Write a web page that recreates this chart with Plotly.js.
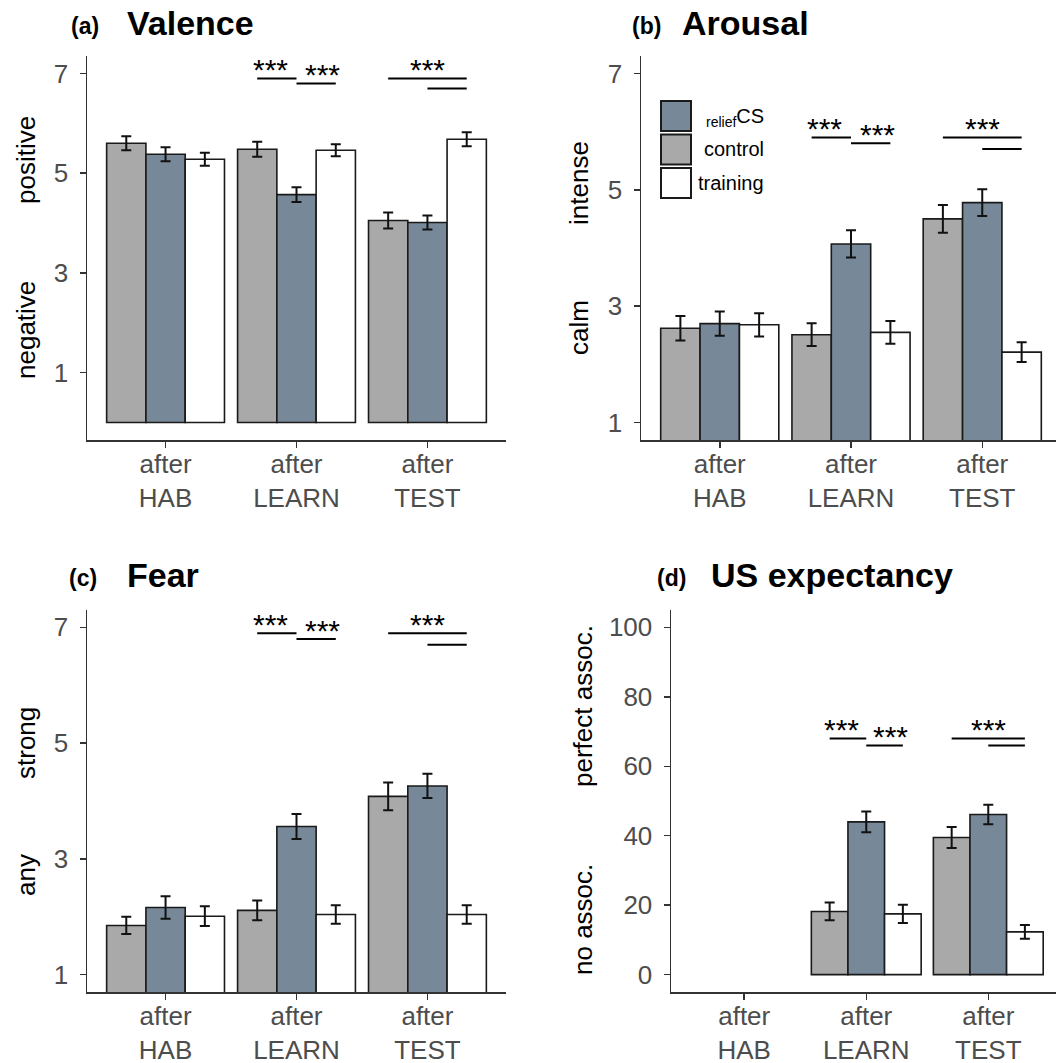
<!DOCTYPE html>
<html><head><meta charset="utf-8">
<script src="https://cdn.plot.ly/plotly-3.0.1.min.js"></script>
<style>html,body{margin:0;padding:0;overflow:hidden;background:#fff}#chart{width:1062px;height:1063px}</style>
</head><body><div id="chart"></div>
<script>
// ---------- data ----------
const phases = ['HAB', 'LEARN', 'TEST'];
const tickLabels = phases.map(p => 'after<br>' + p);
const seriesNames = ['control', 'reliefCS', 'training'];
const legendLabels = ['<sub>relief</sub>CS', 'control', 'training'];

const valenceControl = [5.60, 5.48, 4.05];
const valenceControlErr = [0.14, 0.15, 0.16];
const valenceRelief = [5.38, 4.57, 4.01];
const valenceReliefErr = [0.14, 0.15, 0.14];
const valenceTraining = [5.28, 5.46, 5.68];
const valenceTrainingErr = [0.13, 0.12, 0.14];

const arousalControl = [2.62, 2.51, 4.50];
const arousalControlErr = [0.21, 0.195, 0.24];
const arousalRelief = [2.70, 4.07, 4.78];
const arousalReliefErr = [0.21, 0.235, 0.23];
const arousalTraining = [2.68, 2.55, 2.21];
const arousalTrainingErr = [0.20, 0.195, 0.17];

const fearControl = [1.85, 2.11, 4.08];
const fearControlErr = [0.15, 0.17, 0.24];
const fearRelief = [2.16, 3.56, 4.26];
const fearReliefErr = [0.195, 0.215, 0.21];
const fearTraining = [2.01, 2.04, 2.04];
const fearTrainingErr = [0.17, 0.16, 0.16];

const usControl = [null, 18.2, 39.5];
const usControlErr = [null, 2.55, 3.0];
const usRelief = [null, 44.0, 46.1];
const usReliefErr = [null, 3.0, 2.8];
const usTraining = [null, 17.5, 12.3];
const usTrainingErr = [null, 2.6, 2.0];

const panelLetters = ['(a)', '(b)', '(c)', '(d)'];
const panelTitles = ['Valence', 'Arousal', 'Fear', 'US expectancy'];
const yLabelsHigh = ['positive', 'intense', 'strong', 'perfect assoc.'];
const yLabelsLow = ['negative', 'calm', 'any', 'no assoc.'];
const ticks1to7 = [1, 3, 5, 7];
const ticks0to100 = [0, 20, 40, 60, 80, 100];

// significance: [phaseIndex, fromSeries, toSeries, level]
const sigLinesValence = [[1, 0, 1, 6.9], [1, 1, 2, 6.8], [2, 0, 2, 6.9], [2, 1, 2, 6.7]];
const sigLinesArousal = [[1, 0, 1, 5.9], [1, 1, 2, 5.8], [2, 0, 2, 5.9], [2, 1, 2, 5.7]];
const sigLinesFear = [[1, 0, 1, 6.9], [1, 1, 2, 6.8], [2, 0, 2, 6.9], [2, 1, 2, 6.7]];
const sigLinesUS = [[1, 0, 1, 68], [1, 1, 2, 66], [2, 0, 2, 68], [2, 1, 2, 66]];
// stars: [phaseIndex, lineIndex the label sits over, horizontal shift in bar units]
const sigStars = [[1, 0, -0.2], [1, 1, 0.2], [2, 2, 0]];
const sigLabel = '***';

// ---------- styling ----------
const W = 1062, H = 1063;
const FONT = 'Liberation Sans, Arial, Helvetica, sans-serif';
const colors = ['#A9A9A9', '#778899', '#FFFFFF'];
const bargap = 0.1;
const barW = (1 - bargap) / 3;
const px = x => x / W;
const py = y => 1 - y / H;

const panels = [
  {vals: [valenceControl, valenceRelief, valenceTraining], errs: [valenceControlErr, valenceReliefErr, valenceTrainingErr],
   range: [-0.35, 7.35], ticks: ticks1to7, sig: sigLinesValence, xd: [87, 506], yd: [56, 440]},
  {vals: [arousalControl, arousalRelief, arousalTraining], errs: [arousalControlErr, arousalReliefErr, arousalTrainingErr],
   range: [0.7, 7.3], ticks: ticks1to7, sig: sigLinesArousal, xd: [641, 1061], yd: [56, 440]},
  {vals: [fearControl, fearRelief, fearTraining], errs: [fearControlErr, fearReliefErr, fearTrainingErr],
   range: [0.7, 7.3], ticks: ticks1to7, sig: sigLinesFear, xd: [87, 506], yd: [610, 992]},
  {vals: [usControl, usRelief, usTraining], errs: [usControlErr, usReliefErr, usTrainingErr],
   range: [-5, 105], ticks: ticks0to100, sig: sigLinesUS, xd: [671, 1061.5], yd: [610, 992]}
];

const titlePos = [
  {lx: 69, tx: 125, top: 36}, {lx: 630, tx: 680, top: 36},
  {lx: 67, tx: 125, top: 588}, {lx: 655, tx: 709, top: 588}
];
const ylabPos = [
  {x: 26, hi: 160, lo: 330}, {x: 579, hi: 183, lo: 328},
  {x: 26, hi: 743, lo: 875}, {x: 583, hi: 706, lo: 920}
];

const traces = [];
const layout = {
  width: W, height: H, margin: {l: 0, r: 0, t: 0, b: 0},
  paper_bgcolor: '#fff', plot_bgcolor: '#fff',
  barmode: 'group', bargap: bargap, bargroupgap: 0,
  showlegend: false, font: {family: FONT},
  shapes: [], annotations: []
};

panels.forEach((p, i) => {
  const n = i === 0 ? '' : String(i + 1);
  const xr = 'x' + n, yr = 'y' + n;
  seriesNames.forEach((s, k) => {
    traces.push({
      type: 'bar', name: s, x: tickLabels, y: p.vals[k], xaxis: xr, yaxis: yr,
      marker: {color: colors[k], line: {color: '#1a1a1a', width: 1.6}},
      error_y: {type: 'data', array: p.errs[k], visible: true, color: '#111', thickness: 2, width: 5},
      hoverinfo: 'skip'
    });
  });
  layout['xaxis' + n] = {
    domain: [px(p.xd[0]), px(p.xd[1])], anchor: yr, type: 'category',
    categoryorder: 'array', categoryarray: tickLabels, range: [-0.6, 2.6],
    showline: true, linecolor: '#333', linewidth: 1.5, ticks: 'outside', ticklen: 6,
    tickwidth: 1.5, tickcolor: '#333', showgrid: false, zeroline: false, fixedrange: true,
    ticklabelstandoff: -6,
    tickfont: {family: FONT, size: 26, color: '#4d4d4d'}
  };
  layout['yaxis' + n] = {
    domain: [py(p.yd[1]), py(p.yd[0])], anchor: xr, range: p.range,
    tickmode: 'array', tickvals: p.ticks, ticktext: p.ticks.map(String),
    showline: true, linecolor: '#333', linewidth: 1.5, ticks: 'outside', ticklen: 6,
    tickwidth: 1.5, tickcolor: '#333', showgrid: false, zeroline: false, fixedrange: true,
    ticklabelstandoff: 6, tickfont: {family: FONT, size: 26, color: '#4d4d4d'}
  };
  // significance lines
  p.sig.forEach(([g, a, b, lev]) => {
    layout.shapes.push({type: 'line', xref: xr, yref: yr,
      x0: g + (a - 1) * barW, x1: g + (b - 1) * barW, y0: lev, y1: lev,
      line: {color: '#000', width: 2}});
  });
  sigStars.forEach(([g, li, dx]) => {
    layout.annotations.push({xref: xr, yref: yr, x: g + dx, y: p.sig[li][3], text: sigLabel,
      showarrow: false, xanchor: 'center', yanchor: 'bottom', yshift: -10,
      font: {family: FONT, size: 30, color: '#000'}});
  });
  // titles
  const t = titlePos[i];
  layout.annotations.push({xref: 'paper', yref: 'paper', x: px(t.lx), y: py(t.top), text: '<b>' + panelLetters[i] + '</b>',
    showarrow: false, xanchor: 'left', yanchor: 'bottom', yshift: -5, font: {family: FONT, size: 23, color: '#000'}});
  layout.annotations.push({xref: 'paper', yref: 'paper', x: px(t.tx), y: py(t.top), text: '<b>' + panelTitles[i] + '</b>',
    showarrow: false, xanchor: 'left', yanchor: 'bottom', yshift: -8, font: {family: FONT, size: 34, color: '#000'}});
  // y labels
  const yl = ylabPos[i];
  [[yLabelsHigh[i], yl.hi], [yLabelsLow[i], yl.lo]].forEach(([txt, yy]) => {
    layout.annotations.push({xref: 'paper', yref: 'paper', x: px(yl.x), y: py(yy), text: txt, textangle: -90,
      showarrow: false, xanchor: 'center', yanchor: 'middle', font: {family: FONT, size: 26, color: '#000'}});
  });
});

// legend (panel b): order reliefCS, control, training
const legendColors = [colors[1], colors[0], colors[2]];
const legendTop = [101, 134.5, 168];
legendLabels.forEach((lab, k) => {
  layout.shapes.push({type: 'rect', xref: 'paper', yref: 'paper',
    x0: px(661), x1: px(691), y0: py(legendTop[k] + 30), y1: py(legendTop[k]),
    fillcolor: legendColors[k], line: {color: '#1a1a1a', width: 2}});
  layout.annotations.push({xref: 'paper', yref: 'paper', x: px(766), y: py(legendTop[k] + 15 + (k === 0 ? 2 : 0)),
    text: lab, showarrow: false, xanchor: 'right', yanchor: 'middle',
    font: {family: FONT, size: 20, color: '#000'}});
});

Plotly.newPlot('chart', traces, layout, {displayModeBar: false, staticPlot: true});
</script></body></html>
